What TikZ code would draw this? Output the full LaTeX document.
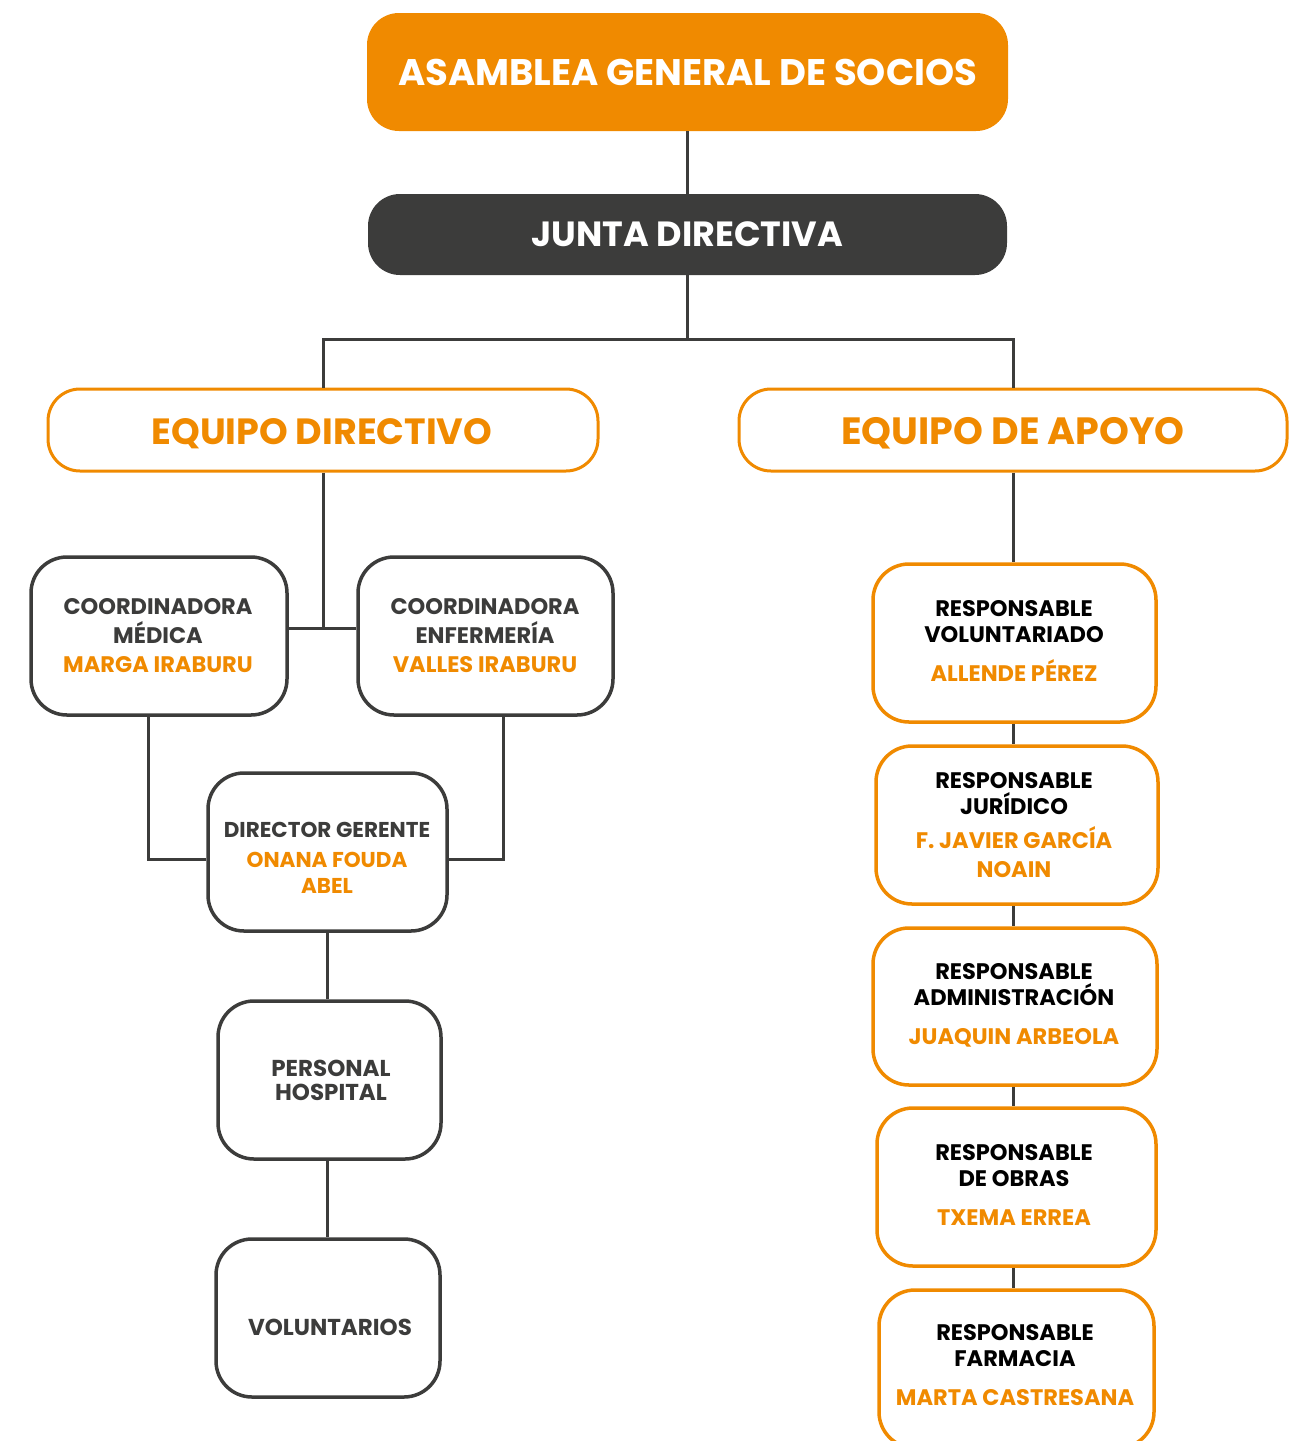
\documentclass[tikz,border=0pt]{standalone}
\usepackage{fontspec}
\setmainfont{Poppins}
\definecolor{org}{HTML}{F08A00}
\definecolor{drk}{HTML}{3C3C3B}
\tikzset{
  conn/.style={draw=drk, line width=3pt},
  topbox/.style={fill=org, rounded corners=32pt, text=white, font=\bfseries\fontsize{37}{40}\selectfont},
  juntabox/.style={fill=drk, rounded corners=32pt, text=white, font=\bfseries\fontsize{35}{40}\selectfont},
  teambox/.style={draw=org, line width=3pt, fill=white, rounded corners=32pt},
  teamtext/.style={text=org, font=\bfseries\fontsize{36.5}{40}\selectfont},
  darkbox/.style={draw=drk, line width=3.5pt, fill=white, rounded corners=36pt},
  darktext/.style={text=drk, align=center, font=\bfseries\fontsize{22.5}{29}\selectfont},
  orgbox/.style={draw=org, line width=3.5pt, fill=white, rounded corners=36pt},
  orgtext/.style={text=black, align=center, font=\bfseries\fontsize{22.5}{26}\selectfont},
}
\newcommand{\nm}[1]{\textcolor{org}{#1}}
\begin{document}
\begin{tikzpicture}[x=1pt,y=-1pt]
\useasboundingbox (0,0) rectangle (1297,1441);
\clip (0,0) rectangle (1297,1441);
% top
\node[topbox, minimum width=641pt, minimum height=118pt] (asm) at (687.5,72) {ASAMBLEA GENERAL DE SOCIOS};
\node[juntabox, minimum width=639pt, minimum height=81pt] (junta) at (687.5,234.5) {JUNTA DIRECTIVA};
\node[teambox, minimum width=550pt, minimum height=82pt] (ed) at (323,430) {};
\node[teamtext] (edt) at (322,434) {EQUIPO DIRECTIVO};
\node[teambox, minimum width=548pt, minimum height=82pt] (ea) at (1013,430) {};
\node[teamtext, font=\bfseries\fontsize{38}{40}\selectfont] (eat) at (1013,433) {EQUIPO DE APOYO};
% left column
\node[darkbox, minimum width=256pt, minimum height=158pt] (cm) at (159,636) {};
\node[darktext] (cmt) at (158,636) {COORDINADORA\\MÉDICA\\\nm{MARGA IRABURU}};
\node[darkbox, minimum width=255pt, minimum height=158pt] (ce) at (485.5,636) {};
\node[darktext] (cet) at (485,636) {COORDINADORA\\ENFERMERÍA\\\nm{VALLES IRABURU}};
\node[darkbox, minimum width=239pt, minimum height=158pt] (dg) at (327.5,852) {};
\node[darktext, font=\bfseries\fontsize{21.5}{26}\selectfont] (dgt) at (327,858) {DIRECTOR GERENTE\\[4pt]\nm{ONANA FOUDA}\\\nm{ABEL}};
\node[darkbox, minimum width=223pt, minimum height=158pt] (ph) at (329.5,1080) {};
\node[darktext, font=\bfseries\fontsize{23}{24}\selectfont] (pht) at (331,1080) {PERSONAL\\HOSPITAL};
\node[darkbox, minimum width=224pt, minimum height=158pt] (vol) at (328,1318) {};
\node[darktext, font=\bfseries\fontsize{23}{24}\selectfont] (volt) at (330,1327) {VOLUNTARIOS};
% right column
\node[orgbox, minimum width=283pt, minimum height=158pt] (rv) at (1014.5,643) {};
\node[orgtext] (rvt) at (1014,641) {RESPONSABLE\\VOLUNTARIADO\\[13pt]\nm{ALLENDE PÉREZ}};
\node[orgbox, minimum width=282pt, minimum height=158pt] (rj) at (1017,825) {};
\node[orgtext] (rjt) at (1014,825) {RESPONSABLE\\JURÍDICO\\[8pt]\nm{F. JAVIER GARCÍA}\\[3pt]\nm{NOAIN}};
\node[orgbox, minimum width=284pt, minimum height=157pt] (ra) at (1015,1006.5) {};
\node[orgtext] (rat) at (1014,1005) {RESPONSABLE\\ADMINISTRACIÓN\\[13pt]\nm{JUAQUIN ARBEOLA}};
\node[orgbox, minimum width=279pt, minimum height=158pt] (ro) at (1016.5,1187) {};
\node[orgtext] (rot) at (1014,1185) {RESPONSABLE\\DE OBRAS\\[13pt]\nm{TXEMA ERREA}};
\node[orgbox, minimum width=275pt, minimum height=158pt] (rf) at (1016.5,1369) {};
\node[orgtext] (rft) at (1015,1365) {RESPONSABLE\\FARMACIA\\[13pt]\nm{MARTA CASTRESANA}};
% connectors
\coordinate (split) at (687.5,339);
\coordinate (edj) at (323,628);
\draw[conn] (asm.south) -- (junta.north);
\draw[conn] (junta.south) -- (split);
\draw[conn] (split) -| (ed.north);
\draw[conn] (split) -| (ea.north);
\draw[conn] (ed.south) -- (edj);
\draw[conn] (cm.east |- edj) -- (ce.west |- edj);
\draw[conn] ([xshift=-11pt]cm.south) |- ([yshift=-7pt]dg.west);
\draw[conn] ([xshift=17.5pt]ce.south) |- ([yshift=-7pt]dg.east);
\draw[conn] (dg.south) -- (dg.south |- ph.north);
\draw[conn] (ph.south -| dg.south) -- (dg.south |- vol.north);
\draw[conn] (ea.south) -- (ea.south |- rv.north);
\draw[conn] (rv.south -| ea.south) -- (ea.south |- rj.north);
\draw[conn] (rj.south -| ea.south) -- (ea.south |- ra.north);
\draw[conn] (ra.south -| ea.south) -- (ea.south |- ro.north);
\draw[conn] (ro.south -| ea.south) -- (ea.south |- rf.north);
\end{tikzpicture}
\end{document}
